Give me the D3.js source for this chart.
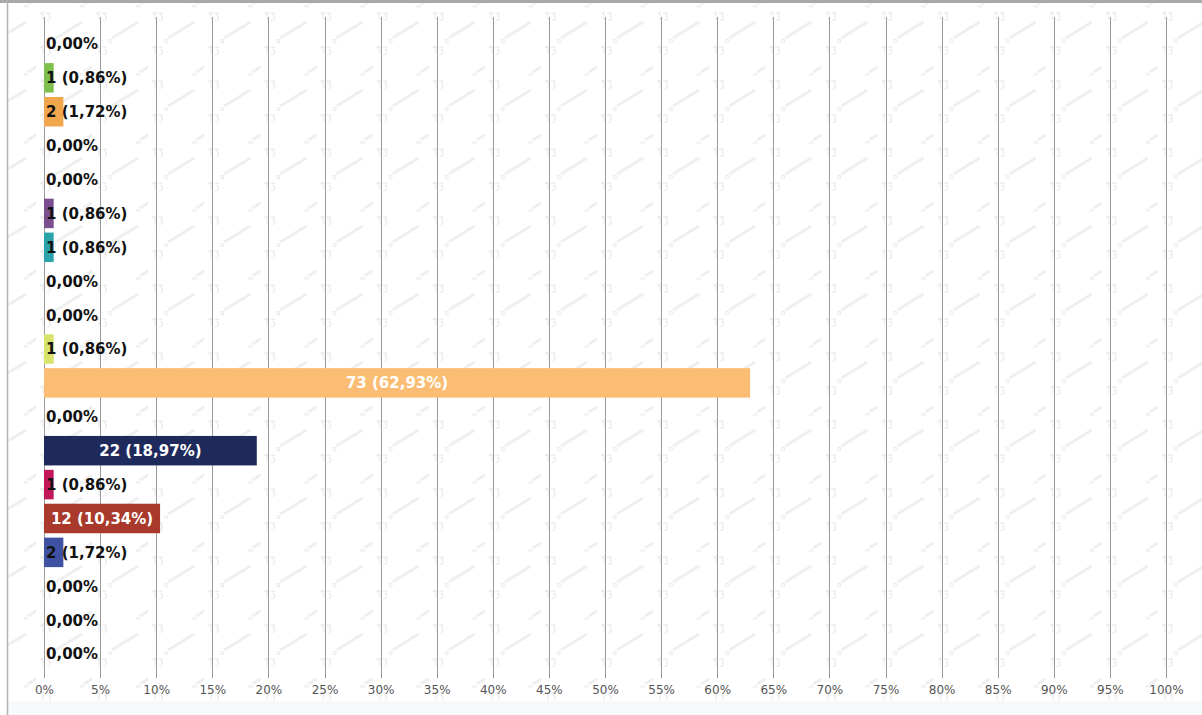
<!DOCTYPE html>
<html>
<head>
<meta charset="utf-8">
<script src="https://cdn.jsdelivr.net/npm/d3@7"></script>
<style>
  html, body { margin: 0; padding: 0; background: #ffffff; }
  svg { display: block; }
</style>
</head>
<body>
<svg id="chart" width="1202" height="715"></svg>
<script>
// Responses per answer option, top to bottom
const counts = [0, 1, 2, 0, 0, 1, 1, 0, 0, 1, 73, 0, 22, 1, 12, 2, 0, 0, 0];
// Fill colour of each answer option's bar
const barColors = [
  "#9e9e9e", "#7fbf4d", "#f0a64c", "#9e9e9e", "#9e9e9e", "#7b4f8f", "#2aa3aa",
  "#9e9e9e", "#9e9e9e", "#d7e36a", "#fbbd74", "#9e9e9e", "#1f2a5c", "#c2185b",
  "#a8392b", "#3f51a3", "#9e9e9e", "#9e9e9e", "#9e9e9e"
];
// Percentage ticks along the bottom axis
const xTicks = [0, 5, 10, 15, 20, 25, 30, 35, 40, 45, 50, 55, 60, 65, 70, 75, 80, 85, 90, 95, 100];

const W = 1202, H = 715;
const svg = d3.select("#chart");
const total = d3.sum(counts);
const rows = counts.map((c, i) => ({ i, count: c, pct: c / total * 100, color: barColors[i] }));

const x = d3.scaleLinear().domain([0, 100]).range([44, 1166]);
const y = d3.scaleBand().domain(rows.map(d => d.i)).range([27, 671]).paddingInner(0.13).paddingOuter(0.065);

const gridTop = 17, gridBottom = 678;

// faint background pattern tile
const defs = svg.append("defs");
const tileW = x(5) - x(0), tileH = 68;
const pat = defs.append("pattern")
  .attr("id", "wm").attr("patternUnits", "userSpaceOnUse")
  .attr("x", x(0) - 8).attr("y", 8)
  .attr("width", tileW).attr("height", tileH);
const wmColor = "#e6e6e6";
[[4, 6], [4, 40]].forEach(([px, py]) => {
  pat.append("path").attr("d", `M${px},${py} l3,-2 l0,8 M${px + 6},${py - 1} l4,0 l-1,3 a2,2 0 1 1 -2,4`)
    .attr("fill", "none").attr("stroke", wmColor).attr("stroke-width", 1);
});
[[20, 30], [48, 64]].forEach(([px, py]) => {
  pat.append("path").attr("d", `M${px},${py} l26,-16`)
    .attr("stroke", "#efefef").attr("stroke-width", 3)
    .attr("fill", "none");
  pat.append("circle").attr("cx", px - 2).attr("cy", py + 3).attr("r", 1.6)
    .attr("fill", "none").attr("stroke", wmColor);
});
svg.append("rect").attr("x", 8).attr("y", 3).attr("width", W - 8).attr("height", 697)
  .attr("fill", "url(#wm)");

// light strip along the bottom
svg.append("rect").attr("x", 8).attr("y", 701).attr("width", W - 8).attr("height", 14).attr("fill", "#f6fafa");

// frame lines
svg.append("line").attr("x1", 0).attr("x2", W).attr("y1", 1.5).attr("y2", 1.5)
  .attr("stroke", "#a9a9a9").attr("stroke-width", 3);
svg.append("line").attr("x1", 7.5).attr("x2", 7.5).attr("y1", 0).attr("y2", H)
  .attr("stroke", "#b4b4b4").attr("stroke-width", 1.5);

// vertical grid
svg.append("g").selectAll("line").data(xTicks).join("line")
  .attr("x1", d => Math.round(x(d)) + 0.5).attr("x2", d => Math.round(x(d)) + 0.5)
  .attr("y1", gridTop).attr("y2", gridBottom)
  .attr("stroke", "#9a9a9a").attr("stroke-width", 1);

// axis tick labels
const axis = d3.axisBottom(x).tickValues(xTicks).tickFormat(d => d + "%").tickSize(0).tickPadding(0);
const ax = svg.append("g").attr("transform", `translate(0,${gridBottom + 7})`).call(axis);
ax.select(".domain").remove();
ax.selectAll("text")
  .attr("font-family", "DejaVu Sans, sans-serif").attr("font-size", 12)
  .attr("fill", "#555").attr("dy", "0.71em");

// bars
svg.append("g").selectAll("rect").data(rows.filter(d => d.count > 0)).join("rect")
  .attr("x", x(0)).attr("y", d => y(d.i))
  .attr("width", d => x(d.pct) - x(0)).attr("height", y.bandwidth())
  .attr("fill", d => d.color);

// value labels
const fmt = v => v.toFixed(2).replace(".", ",") + "%";
const labelFont = 15;
const lbl = svg.append("g").attr("font-family", "DejaVu Sans, sans-serif")
  .attr("font-weight", "bold").attr("font-size", labelFont);
rows.forEach(d => {
  const text = d.count === 0 ? fmt(0) : `${d.count} (${fmt(d.pct)})`;
  const barW = x(d.pct) - x(0);
  const inside = barW > 100;
  lbl.append("text")
    .attr("x", inside ? x(0) + barW / 2 : x(0) + 2)
    .attr("y", y(d.i) + y.bandwidth() / 2)
    .attr("dy", "0.36em")
    .attr("text-anchor", inside ? "middle" : "start")
    .attr("fill", inside ? "#ffffff" : "#111")
    .text(text);
});
</script>
</body>
</html>
